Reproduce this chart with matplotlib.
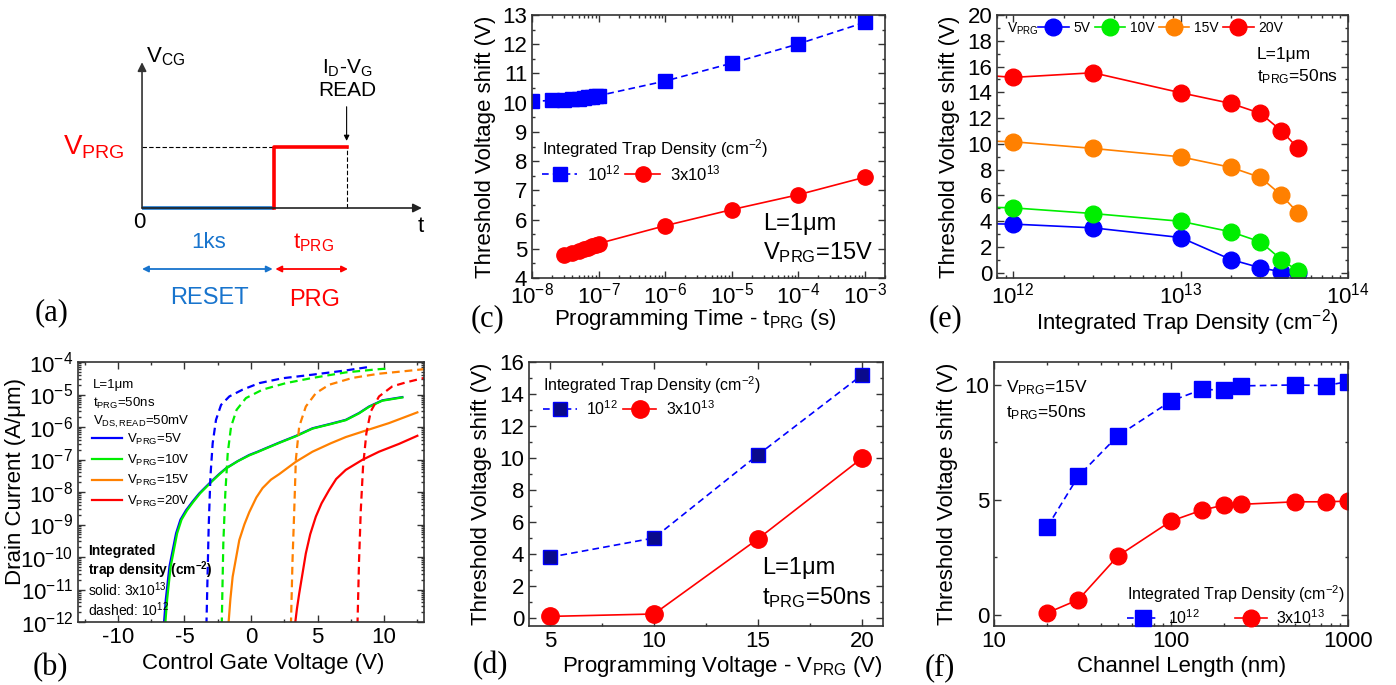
import numpy as np
import matplotlib
matplotlib.use('Agg')
import matplotlib.pyplot as plt
from matplotlib.lines import Line2D
from matplotlib import ticker

plt.rcParams['font.family'] = ['Liberation Sans', 'DejaVu Sans']
plt.rcParams['mathtext.fontset'] = 'custom'
plt.rcParams['mathtext.rm'] = 'Liberation Sans'
plt.rcParams['mathtext.it'] = 'Liberation Sans:italic'
plt.rcParams['mathtext.bf'] = 'Liberation Sans:bold'
plt.rcParams['axes.unicode_minus'] = False

BLUE = '#0000ff'
GREEN = '#00ee00'
ORANGE = '#ff8000'
RED = '#ff0000'
NAVY = '#0a0a8c'
SBLUE = '#1874cd'

# ---- (b) Id-Vg curves (Vg in V, log10 of Id in A/um)
vg_s5 = [-6.55, -6.4, -6.13, -5.63, -5.3, -4.88, -4.4, -3.88, -3.0, -2.4, -1.88, -1.0, -0.13, 0.5, 1.13, 2.12,
         3.4, 4.62, 6.0, 7.12, 8.12, 8.87, 9.87, 11.37]
li_s5 = [-12.1, -11.3, -10.3, -9.27, -8.85, -8.56, -8.3, -8.04, -7.68, -7.45, -7.27, -7.05, -6.86, -6.76, -6.65,
         -6.48, -6.27, -6.04, -5.9, -5.78, -5.57, -5.37, -5.18, -5.08]
vg_s10 = [-6.45, -6.3, -6.04, -5.55, -5.22, -4.8, -4.33, -3.82, -2.95, -2.36, -1.85, -0.98, -0.11, 0.5, 1.13, 2.12,
          3.4, 4.62, 6.0, 7.12, 8.12, 8.87, 9.87, 11.37]
li_s10 = [-12.1, -11.3, -10.3, -9.27, -8.85, -8.56, -8.3, -8.04, -7.68, -7.45, -7.27, -7.05, -6.87, -6.77, -6.66,
          -6.49, -6.28, -6.05, -5.91, -5.79, -5.58, -5.38, -5.19, -5.09]
vg_s15 = [-1.7, -1.55, -1.38, -0.88, -0.5, -0.13, 0.4, 0.87, 1.5, 2.12, 3.37, 4.62, 6.0, 7.12, 8.62, 10.37, 12.5]
li_s15 = [-12.1, -11.3, -10.61, -9.48, -9.0, -8.62, -8.17, -7.88, -7.62, -7.45, -7.07, -6.76, -6.5, -6.31, -6.11,
          -5.88, -5.55]
vg_s20 = [3.3, 3.45, 3.62, 4.12, 4.45, 4.87, 5.3, 5.87, 6.4, 7.12, 8.37, 9.62, 11.12, 12.5]
li_s20 = [-12.1, -11.6, -11.13, -9.89, -9.3, -8.76, -8.35, -7.94, -7.6, -7.32, -7.01, -6.76, -6.52, -6.27]
vg_d5 = [-3.35, -3.18, -3.05, -2.88, -2.63, -2.25, -1.63, -0.63, 0.62, 2.37, 4.62, 7.12, 8.9]
li_d5 = [-12.1, -9.07, -7.53, -6.5, -5.78, -5.32, -5.06, -4.85, -4.65, -4.5, -4.39, -4.26, -4.15]
vg_d10 = [-2.2, -2.08, -1.93, -1.75, -1.5, -1.08, -0.38, 0.87, 2.62, 4.62, 7.12, 9.62, 10.4]
li_d10 = [-12.1, -9.58, -8.04, -6.81, -5.99, -5.47, -5.11, -4.85, -4.65, -4.49, -4.32, -4.22, -4.2]
vg_d15 = [3.0, 3.12, 3.25, 3.37, 3.62, 4.12, 4.87, 5.87, 7.62, 9.62, 11.37, 13.0]
li_d15 = [-12.1, -10.1, -8.56, -7.01, -5.99, -5.37, -4.96, -4.70, -4.49, -4.36, -4.29, -4.22]
vg_d20 = [8.0, 8.12, 8.25, 8.42, 8.67, 9.0, 9.62, 10.62, 11.62, 13.0]
li_d20 = [-12.1, -10.1, -8.56, -7.22, -6.19, -5.52, -5.06, -4.75, -4.63, -4.49]

# ---- (c) Vth shift vs programming time
t_lo = [1e-8, 2e-8, 3e-8, 4e-8, 5e-8, 6e-8, 7e-8, 8e-8, 9e-8, 1e-7, 1e-6, 1e-5, 1e-4, 1e-3]
dv_lo = [10.04, 10.08, 10.10, 10.12, 10.14, 10.16, 10.18, 10.20, 10.22, 10.24, 10.74, 11.35, 12.01, 12.75]
t_hi = [3e-8, 4e-8, 5e-8, 6e-8, 7e-8, 8e-8, 9e-8, 1e-7, 1e-6, 1e-5, 1e-4, 1e-3]
dv_hi = [4.77, 4.87, 4.93, 4.99, 5.04, 5.09, 5.13, 5.18, 5.79, 6.34, 6.85, 7.45]

# ---- (d) Vth shift vs programming voltage
vprg = [5, 10, 15, 20]
dvd_lo = [3.8, 5.0, 10.2, 15.2]
dvd_hi = [0.1, 0.25, 4.95, 10.0]

# ---- (e) Vth shift vs trap density
nt = [5e11, 1e12, 3e12, 1e13, 2e13, 3e13, 4e13, 5e13]
dve_5 = [3.83, 3.78, 3.49, 2.74, 1.03, 0.39, 0.08, 0.02]
dve_10 = [5.14, 5.04, 4.6, 4.0, 3.18, 2.4, 1.03, 0.16]
dve_15 = [10.27, 10.17, 9.65, 9.0, 8.18, 7.4, 6.03, 4.68]
dve_20 = [15.46, 15.16, 15.52, 13.97, 13.14, 12.37, 11.02, 9.7]

# ---- (f) Vth shift vs channel length
lch = [20, 30, 50, 100, 150, 200, 250, 500, 750, 1000]
dvf_lo = [3.82, 6.03, 7.78, 9.30, 9.81, 9.77, 9.96, 10.0, 9.97, 10.15]
dvf_hi = [0.07, 0.65, 2.54, 4.07, 4.55, 4.77, 4.8, 4.91, 4.91, 4.94]

W, H = 1396, 685
fig = plt.figure(figsize=(W / 100, H / 100), dpi=100)


def add_ax(l, t, r, b):
    return fig.add_axes([l / W, 1 - b / H, (r - l) / W, (b - t) / H])


def ftxt(x, y, s, **kw):
    kw.setdefault('va', 'center')
    fig.text(x / W, 1 - y / H, s, **kw)


def style(ax, fs=16):
    ax.tick_params(which='both', direction='in', top=True, right=True, labelsize=fs,
                   width=1, color='#333333')
    ax.tick_params(which='major', length=5)
    ax.tick_params(which='minor', length=2.5)
    for s in ax.spines.values():
        s.set_linewidth(1.2)
        s.set_color('#333333')


def labels(ax, xl, yl, xpos, ypos, fs=16):
    # xpos: label top, ypos: label centre, in axes fractions
    ax.set_xlabel(xl, fontsize=fs)
    ax.set_ylabel(yl, fontsize=fs)
    ax.xaxis.set_label_coords(xpos[0], xpos[1])
    ax.yaxis.set_label_coords(ypos[0], ypos[1])
    ax.yaxis.label.set_va('center')


def panel_label(x, y, s):
    ftxt(x, y, s, ha='center', family='Liberation Serif', fontsize=22)


def trap_legend(ax, x, y, fs, hl, tp, cs, sq_face, ms_s, ms_c):
    h1 = Line2D([], [], color=BLUE, ls=(0, (4, 2.5)), lw=1.2, marker='s', ms=ms_s,
                mfc=sq_face, mec=BLUE)
    h2 = Line2D([], [], color=RED, lw=1.2, marker='o', ms=ms_c, mfc=RED, mec=RED)
    ax.legend([h1, h2], ['10$^{12}$', '3x10$^{13}$'], title='Integrated Trap Density (cm$^{-2}$)',
              ncol=2, loc='upper left', bbox_to_anchor=(x / W, 1 - y / H), bbox_transform=fig.transFigure,
              frameon=False, fontsize=fs, title_fontsize=fs, handlelength=hl, handletextpad=tp,
              columnspacing=cs, borderpad=0, borderaxespad=0, alignment='left', numpoints=1,
              labelspacing=0.2)


# ================= (a) schematic =================
axa = add_ax(0, 0, 460, 330)
axa.set_xlim(-1.076, 2.409)
axa.set_ylim(-2.0, 3.41)
axa.axis('off')
axa.annotate('', xy=(0, 2.39), xytext=(0, 0),
             arrowprops=dict(arrowstyle='-|>', lw=1.2, color='#333333', mutation_scale=13, shrinkA=0, shrinkB=0))
axa.annotate('', xy=(2.12, 0), xytext=(0, 0),
             arrowprops=dict(arrowstyle='-|>', lw=1.2, color='#222222', mutation_scale=13, shrinkA=0, shrinkB=0))
axa.plot([0, 1], [1, 1], color='k', ls=(0, (4, 2)), lw=0.8)
axa.plot([1.55, 1.55], [0, 1], color='k', ls=(0, (4, 2)), lw=0.8)
axa.plot([0, 1], [0, 0], color=SBLUE, lw=2.6, solid_capstyle='butt')
axa.plot([1, 1, 1.55], [0, 1, 1], color=RED, lw=2.6)
axa.annotate('', xy=(1.55, 1.1), xytext=(1.55, 1.66),
             arrowprops=dict(arrowstyle='-|>', lw=0.8, color='k', mutation_scale=8, shrinkA=0, shrinkB=0))
axa.annotate('', xy=(0.99, -1.0), xytext=(0, -1.0),
             arrowprops=dict(arrowstyle='<|-|>', lw=1.3, color=SBLUE, mutation_scale=9, shrinkA=0, shrinkB=0))
axa.annotate('', xy=(1.56, -1.0), xytext=(1.01, -1.0),
             arrowprops=dict(arrowstyle='<|-|>', lw=1.3, color=RED, mutation_scale=9, shrinkA=0, shrinkB=0))
ftxt(146, 57, 'V$_\\mathrm{CG}$', fontsize=16)
ftxt(125, 147, 'V$_\\mathrm{PRG}$', fontsize=20, color=RED, ha='right')
ftxt(347, 68, 'I$_\\mathrm{D}$-V$_\\mathrm{G}$', fontsize=15, ha='center')
ftxt(347, 90, 'READ', fontsize=15, ha='center')
ftxt(139, 222, '0', fontsize=16, ha='center')
ftxt(421, 226, 't', fontsize=16, ha='center')
ftxt(209, 243, '1ks', fontsize=16, ha='center', color=SBLUE)
ftxt(313, 243, 't$_\\mathrm{PRG}$', fontsize=16, ha='center', color=RED)
ftxt(209, 298, 'RESET', fontsize=17, ha='center', color=SBLUE)
ftxt(315, 300, 'PRG', fontsize=17, ha='center', color=RED)
panel_label(52, 313, '(a)')

# ================= (b) Id-Vg =================
axb = add_ax(78, 362, 424, 622)
dash = (0, (3.5, 2.2))
curves = [(vg_s5, li_s5, BLUE, '-'), (vg_s10, li_s10, GREEN, '-'), (vg_s15, li_s15, ORANGE, '-'),
          (vg_s20, li_s20, RED, '-'), (vg_d5, li_d5, BLUE, dash), (vg_d10, li_d10, GREEN, dash),
          (vg_d15, li_d15, ORANGE, dash), (vg_d20, li_d20, RED, dash)]
for vg, li, c, ls in curves:
    axb.plot(vg, np.power(10.0, li), color=c, ls=ls, lw=1.6)
axb.set_yscale('log')
axb.set_xlim(-13, 13)
axb.set_ylim(1e-12, 1e-4)
axb.yaxis.set_major_locator(ticker.LogLocator(base=10, numticks=20))
axb.yaxis.set_minor_locator(ticker.LogLocator(base=10, subs=np.arange(2, 10), numticks=20))
axb.yaxis.set_minor_formatter(ticker.NullFormatter())
axb.xaxis.set_major_locator(ticker.MultipleLocator(5))
axb.xaxis.set_minor_locator(ticker.MultipleLocator(2.5))
style(axb, 16)
labels(axb, 'Control Gate Voltage (V)', 'Drain Current (A/μm)', (0.535, -0.118), (-0.182, 0.54))
ftxt(93, 385, 'L=1μm', fontsize=9.5)
ftxt(93, 403, 't$_\\mathrm{PRG}$=50ns', fontsize=9.5)
ftxt(93, 422, 'V$_\\mathrm{DS,READ}$=50mV', fontsize=9.5)
hb = [Line2D([], [], color=c, lw=1.6) for c in [BLUE, GREEN, ORANGE, RED]]
axb.legend(hb, ['V$_\\mathrm{PRG}$=5V', 'V$_\\mathrm{PRG}$=10V', 'V$_\\mathrm{PRG}$=15V', 'V$_\\mathrm{PRG}$=20V'],
           loc='upper left', bbox_to_anchor=(92 / W, 1 - 432 / H), bbox_transform=fig.transFigure,
           frameon=False, fontsize=9.5, handlelength=2.3, handletextpad=0.35, borderpad=0,
           borderaxespad=0, labelspacing=0.42)
ftxt(88, 551, 'Integrated', fontsize=10, fontweight='bold')
ftxt(88, 570, 'trap density (cm$^{\\mathbf{-2}}$)', fontsize=10, fontweight='bold')
ftxt(88, 590, 'solid: 3x10$^{13}$', fontsize=10)
ftxt(88, 610, 'dashed: 10$^{12}$', fontsize=10)
panel_label(50, 668, '(b)')

# ================= (c) vs time =================
axc = add_ax(532, 15, 885, 278)
axc.plot(t_lo, dv_lo, color=BLUE, ls=(0, (4, 2.5)), lw=1.2, marker='s', ms=9.5, mfc=BLUE, mec=BLUE)
axc.plot(t_hi, dv_hi, color=RED, lw=1.2, marker='o', ms=11, mfc=RED, mec=RED)
axc.set_xscale('log')
axc.set_xlim(1e-8, 2e-3)
axc.set_ylim(4, 13)
axc.xaxis.set_major_locator(ticker.LogLocator(base=10, numticks=20))
axc.xaxis.set_minor_locator(ticker.LogLocator(base=10, subs=np.arange(2, 10), numticks=20))
axc.xaxis.set_minor_formatter(ticker.NullFormatter())
axc.yaxis.set_major_locator(ticker.MultipleLocator(1))
axc.yaxis.set_minor_locator(ticker.MultipleLocator(0.5))
style(axc, 16)
labels(axc, 'Programming Time - t$_\\mathrm{PRG}$ (s)', 'Threshold Voltage shift (V)',
       (0.462, -0.112), (-0.133, 0.5))
trap_legend(axc, 542, 137, 12, 2.1, 0.6, 0.3, BLUE, 9.5, 11)
ftxt(763, 224, 'L=1μm', fontsize=17)
ftxt(763, 253, 'V$_\\mathrm{PRG}$=15V', fontsize=17)
panel_label(487, 319, '(c)')

# ================= (d) vs voltage =================
axd = add_ax(529, 362, 883, 626)
axd.plot(vprg, dvd_lo, color=BLUE, ls=(0, (4, 2.5)), lw=1.2, marker='s', ms=10, mfc=NAVY, mec=BLUE)
axd.plot(vprg, dvd_hi, color=RED, lw=1.2, marker='o', ms=12.5, mfc=RED, mec=RED)
axd.set_xlim(4, 21)
axd.set_ylim(-0.5, 16)
axd.xaxis.set_major_locator(ticker.MultipleLocator(5))
axd.xaxis.set_minor_locator(ticker.MultipleLocator(2.5))
axd.yaxis.set_major_locator(ticker.MultipleLocator(2))
axd.yaxis.set_minor_locator(ticker.MultipleLocator(1))
style(axd, 16)
labels(axd, 'Programming Voltage - V$_\\mathrm{PRG}$ (V)', 'Threshold Voltage shift (V)',
       (0.547, -0.105), (-0.133, 0.5))
trap_legend(axd, 543, 374, 11.5, 2.1, 0.6, 0.3, NAVY, 10, 12.5)
ftxt(762, 568, 'L=1μm', fontsize=17)
ftxt(762, 598, 't$_\\mathrm{PRG}$=50ns', fontsize=17)
panel_label(490, 666, '(d)')

# ================= (e) vs trap density =================
axe = add_ax(997, 15, 1348, 278)
for dv, c in [(dve_5, BLUE), (dve_10, GREEN), (dve_15, ORANGE), (dve_20, RED)]:
    axe.plot(nt, dv, color=c, lw=1.2, marker='o', ms=12, mfc=c, mec=c)
axe.set_xscale('log')
axe.set_xlim(8e11, 1e14)
axe.set_ylim(-0.4, 20)
axe.xaxis.set_major_locator(ticker.LogLocator(base=10, numticks=20))
axe.xaxis.set_minor_locator(ticker.LogLocator(base=10, subs=np.arange(2, 10), numticks=20))
axe.xaxis.set_minor_formatter(ticker.NullFormatter())
axe.yaxis.set_major_locator(ticker.MultipleLocator(2))
axe.yaxis.set_minor_locator(ticker.MultipleLocator(1))
style(axe, 16)
labels(axe, 'Integrated Trap Density (cm$^{-2}$)', 'Threshold Voltage shift (V)',
       (0.543, -0.112), (-0.134, 0.5))
he = [Line2D([], [], color=c, lw=1.2, marker='o', ms=12, mfc=c, mec=c) for c in [BLUE, GREEN, ORANGE, RED]]
axe.legend(he, ['5V', '10V', '15V', '20V'], ncol=4, loc='upper left',
           bbox_to_anchor=(1038 / W, 1 - 21 / H), bbox_transform=fig.transFigure, frameon=False,
           fontsize=10, handlelength=2.2, handletextpad=0.35, columnspacing=0.3, borderpad=0,
           borderaxespad=0, numpoints=1)
ftxt(1007, 29, 'V$_\\mathrm{PRG}$', fontsize=10)
ftxt(1257, 55, 'L=1μm', fontsize=12.5)
ftxt(1257, 77, 't$_\\mathrm{PRG}$=50ns', fontsize=12.5)
panel_label(946, 319, '(e)')

# ================= (f) vs channel length =================
axf = add_ax(994, 362, 1348, 626)
axf.plot(lch, dvf_lo, color=BLUE, ls=(0, (4, 2.5)), lw=1.2, marker='s', ms=11, mfc=BLUE, mec=BLUE)
axf.plot(lch, dvf_hi, color=RED, lw=1.2, marker='o', ms=12, mfc=RED, mec=RED)
axf.set_xscale('log')
axf.set_xlim(10, 1000)
axf.set_ylim(-0.5, 11)
axf.set_xticks([10, 100, 1000])
axf.set_xticklabels(['10', '100', '1000'])
axf.xaxis.set_minor_locator(ticker.LogLocator(base=10, subs=np.arange(2, 10), numticks=20))
axf.xaxis.set_minor_formatter(ticker.NullFormatter())
axf.yaxis.set_major_locator(ticker.MultipleLocator(5))
axf.yaxis.set_minor_locator(ticker.MultipleLocator(2.5))
style(axf, 16)
labels(axf, 'Channel Length (nm)', 'Threshold Voltage shift (V)', (0.53, -0.115), (-0.13, 0.5))
trap_legend(axf, 1127, 583, 11.5, 1.95, 0.6, 2.25, BLUE, 11, 12)
ftxt(1006, 388, 'V$_\\mathrm{PRG}$=15V', fontsize=12.5)
ftxt(1006, 413, 't$_\\mathrm{PRG}$=50ns', fontsize=12.5)
panel_label(940, 668, '(f)')

fig.savefig('out.png', dpi=100)
